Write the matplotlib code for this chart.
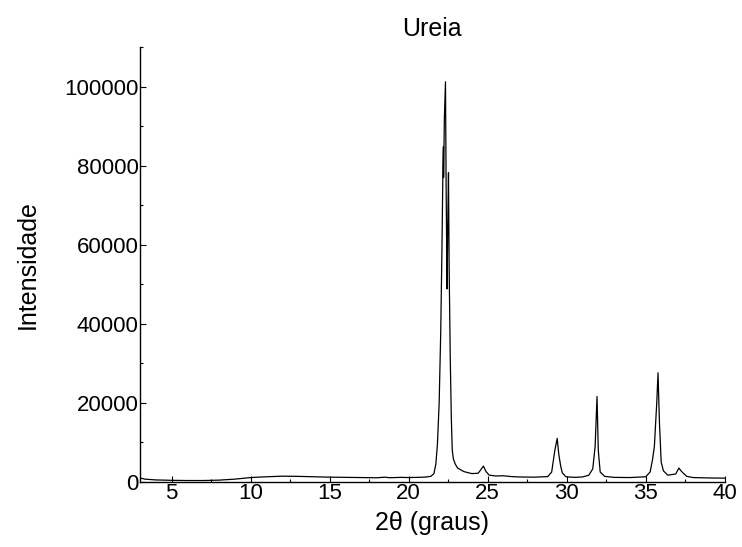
import matplotlib
matplotlib.use("Agg")
import matplotlib.pyplot as plt
from matplotlib.ticker import MultipleLocator


TITLE = "Ureia"
X_LABEL = "2\u03b8 (graus)"
Y_LABEL = "Intensidade"

# 2theta (degrees) and intensity
two_theta = [
    3.0, 3.3, 4.0, 5.0, 6.0, 7.0, 8.0, 9.0, 10.0, 11.0, 12.0, 13.0, 14.0,
    15.0, 16.0, 17.0, 18.0, 18.5, 18.8, 19.5, 20.0, 20.5, 21.0, 21.4, 21.6,
    21.72, 21.82, 21.93, 22.03, 22.11, 22.17, 22.20, 22.21, 22.26, 22.33,
    22.37, 22.43, 22.47, 22.52, 22.56, 22.63, 22.7, 22.76, 22.83, 22.95,
    23.1, 23.5, 24.0, 24.4, 24.55, 24.73, 24.9, 25.1, 25.5, 26.0, 26.5,
    27.0, 28.0, 28.8, 29.05, 29.25, 29.4, 29.5, 29.62, 29.72, 29.95, 30.5,
    31.0, 31.4, 31.65, 31.8, 31.92, 32.0, 32.12, 32.4, 33.0, 34.0, 35.0,
    35.28, 35.43, 35.55, 35.64, 35.7, 35.78, 35.87, 35.98, 36.12, 36.4,
    36.9, 37.1, 37.3, 37.6, 38.0, 39.0, 40.0,
]
intensity = [
    1000, 700, 500, 400, 350, 350, 450, 700, 1100, 1300, 1450, 1400, 1300,
    1200, 1150, 1100, 1050, 1200, 1050, 1150, 1100, 1150, 1200, 1400, 2100,
    4500, 9500, 20000, 38000, 60000, 80000, 84800, 77000, 92000, 101200,
    75000, 48800, 64000, 78200, 55000, 32000, 16000, 8000, 5800, 4500,
    3500, 2600, 2100, 2200, 3000, 4000, 2600, 1700, 1500, 1550, 1350,
    1250, 1200, 1350, 2500, 8000, 11000, 7000, 4000, 2300, 1300, 1150,
    1250, 1700, 3300, 9000, 21600, 8000, 2500, 1400, 1150, 1100, 1300,
    2500, 5600, 9000, 15700, 20000, 27600, 15000, 5000, 2800, 1700,
    2000, 3500, 2500, 1400, 1100, 1000, 950,
]

plt.rcParams["font.family"] = ["Liberation Sans", "DejaVu Sans"]

fig = plt.figure(figsize=(7.42, 5.47), dpi=100)
ax = fig.add_axes([0.1887, 0.119, 0.788, 0.795])

ax.plot(two_theta, intensity, color="black", linewidth=0.9)

ax.set_xlim(3, 40)
ax.set_ylim(0, 110000)
ax.xaxis.set_major_locator(MultipleLocator(5))
ax.xaxis.set_minor_locator(MultipleLocator(2.5))
ax.yaxis.set_major_locator(MultipleLocator(20000))
ax.yaxis.set_minor_locator(MultipleLocator(10000))
ax.tick_params(which="major", direction="in", length=4, width=0.8,
               labelsize=16, pad=1)
ax.tick_params(which="minor", direction="in", length=2.5, width=0.8)

for side in ("top", "right"):
    ax.spines[side].set_visible(False)
for side in ("left", "bottom"):
    ax.spines[side].set_linewidth(1.0)

ax.set_title(TITLE, fontsize=18, pad=8)
ax.set_xlabel(X_LABEL, fontsize=18, labelpad=5)
ax.set_ylabel(Y_LABEL, fontsize=18, labelpad=18)

fig.savefig("out.png", dpi=100)
plt.close(fig)
